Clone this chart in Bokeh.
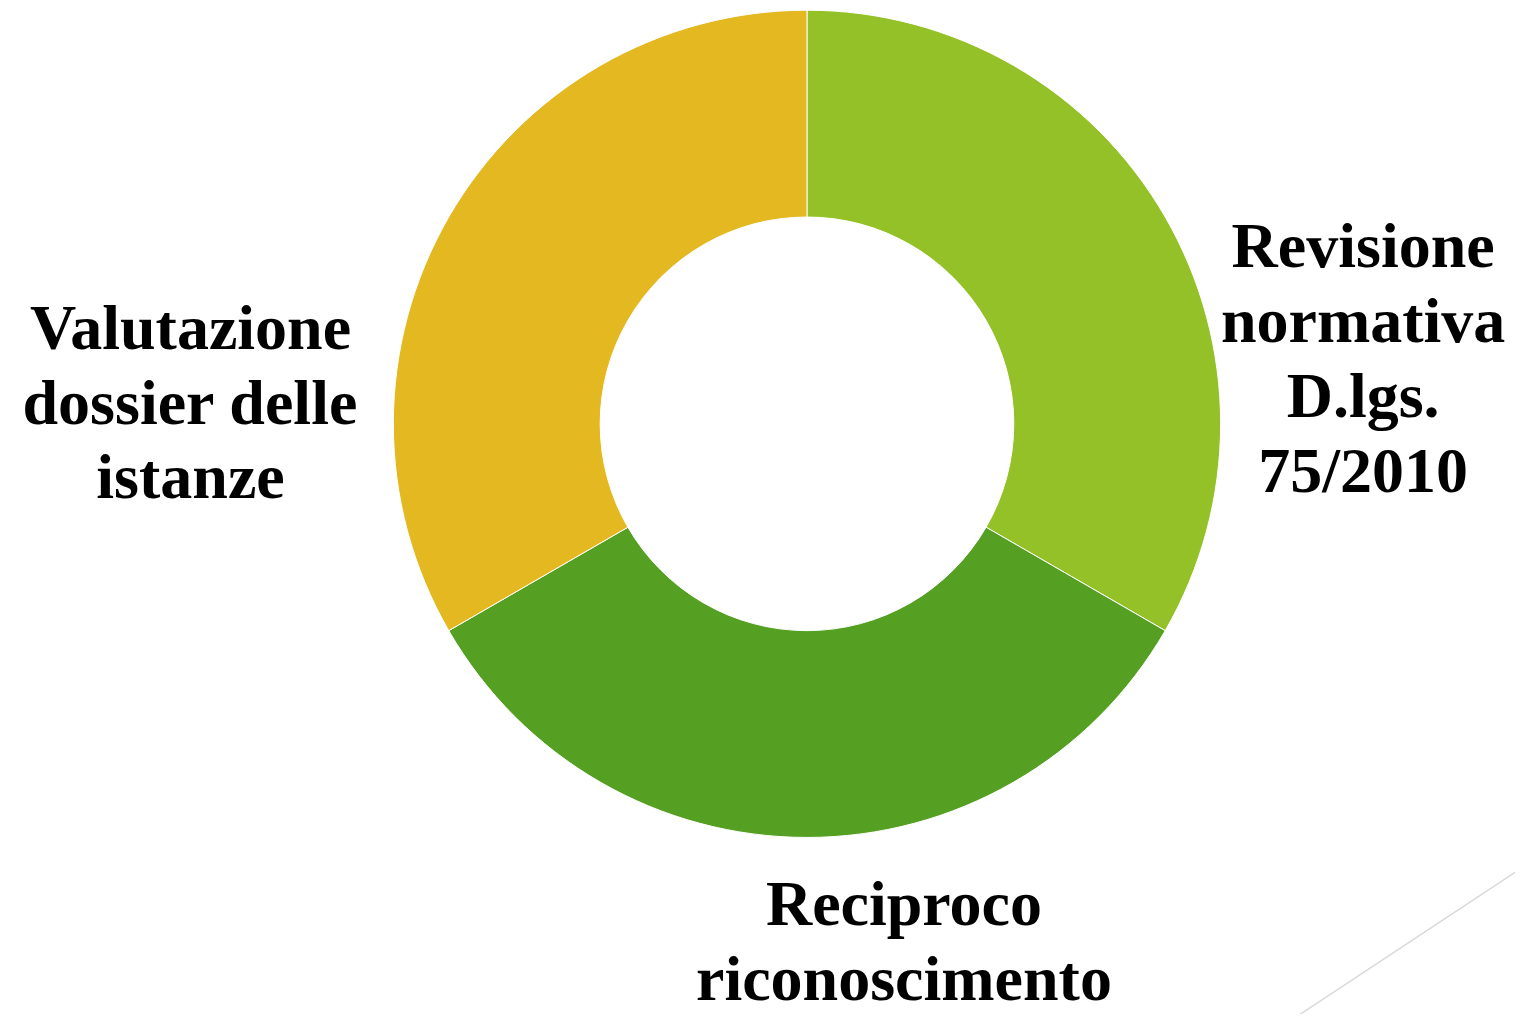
import numpy as np
from bokeh.plotting import figure
from bokeh.models import Range1d
from bokeh.core.properties import value
from bokeh.embed import file_html
from bokeh.resources import INLINE

# Data
categories = ["Revisione\nnormativa\nD.lgs.\n75/2010",
              "Reciproco\nriconoscimento",
              "Valutazione\ndossier delle\nistanze"]
shares = [1, 1, 1]
colors = ["#93C127", "#55A023", "#E4B820"]

# Layout: data units follow the reference image pixels (y negated)
W, H = 1515, 1014
cx, cy = 815, -430
r_in, r_out = 209, 418

p = figure(width=W, height=H, output_backend="svg", toolbar_location=None,
           x_range=Range1d(0, 1531), y_range=Range1d(-1030, 0),
           min_border=0, outline_line_color=None)
p.axis.visible = False
p.grid.visible = False
p.background_fill_color = "white"
p.border_fill_color = "white"

vals = np.array(shares, dtype=float)
frac = vals / vals.sum()
cum = np.concatenate([[0], np.cumsum(frac)])
starts = np.pi / 2 - cum[:-1] * 2 * np.pi
ends = np.pi / 2 - cum[1:] * 2 * np.pi

p.annular_wedge(x=[cx] * 3, y=[cy] * 3, inner_radius=r_in, outer_radius=r_out,
                start_angle=list(starts), end_angle=list(ends), direction="clock",
                fill_color=colors, line_color="white", line_width=1)

# label positions: (center x, first baseline y in reference pixels)
label_pos = [(1377, 272), (913, 940), (192, 355)]
line_h = 76
shift = 23  # renderer places glyph baseline this much below anchor
for lab, (lx, ly) in zip(categories, label_pos):
    lines = lab.split("\n")
    p.text(x=[lx] * len(lines),
           y=[-(ly - shift + i * line_h) for i in range(len(lines))],
           text=lines, text_font=value("Liberation Serif"), text_font_style="bold",
           text_font_size="64px", text_align="center", text_baseline="alphabetic",
           text_color="black")

# decorative thin diagonal line
p.line(x=[1301, 1545], y=[-1038, -876], line_color="#D9D9D9", line_width=1.5)

open("out.html", "w").write(file_html(p, INLINE))
